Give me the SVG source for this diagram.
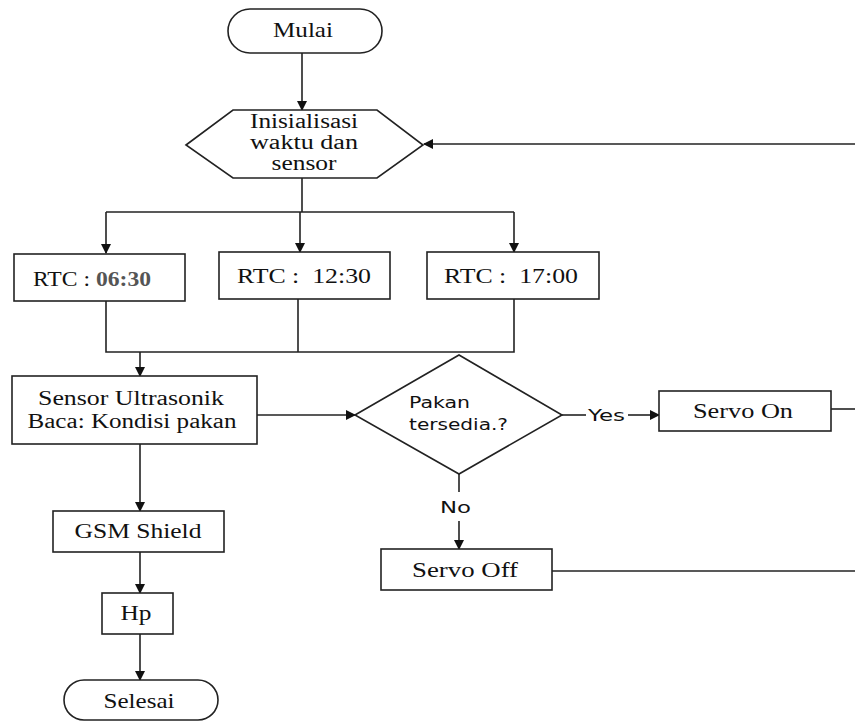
<svg xmlns="http://www.w3.org/2000/svg" width="855" height="722" viewBox="0 0 855 722">
<style>
.s{fill:#fff;stroke:#222;stroke-width:1.6}
.c{fill:none;stroke:#222;stroke-width:1.6}
.t{font-family:"Liberation Serif","Times New Roman",serif;font-size:22px;fill:#111;text-anchor:middle}
.m{font-size:20px}
.ss{font-family:"DejaVu Sans","Open Sans",sans-serif;font-size:16px;fill:#111}
</style>
<defs>
<marker id="a" markerWidth="10" markerHeight="10" refX="9" refY="5" orient="auto" markerUnits="userSpaceOnUse">
<path d="M0,0 L10,5 L0,10 Z" fill="#111"/>
</marker>
</defs>
<rect width="855" height="722" fill="#fff"/>
<g id="connectors">
<line class="c" x1="302" y1="53" x2="302" y2="110" marker-end="url(#a)"/>
<line class="c" x1="855" y1="144" x2="424" y2="144" marker-end="url(#a)"/>
<polyline class="c" points="302,178 302,212"/>
<polyline class="c" points="106,212 514,212"/>
<line class="c" x1="106" y1="212" x2="106" y2="253" marker-end="url(#a)"/>
<line class="c" x1="300" y1="212" x2="300" y2="252" marker-end="url(#a)"/>
<line class="c" x1="514" y1="212" x2="514" y2="252" marker-end="url(#a)"/>
<polyline class="c" points="106,300 106,352 514,352 514,299"/>
<line class="c" x1="298" y1="299" x2="298" y2="352"/>
<line class="c" x1="140" y1="352" x2="140" y2="376" marker-end="url(#a)"/>
<line class="c" x1="257" y1="415" x2="355" y2="415" marker-end="url(#a)"/>
<line class="c" x1="562" y1="415" x2="586" y2="415"/>
<line class="c" x1="628" y1="415" x2="659" y2="415" marker-end="url(#a)"/>
<line class="c" x1="831" y1="409" x2="855" y2="409"/>
<line class="c" x1="459" y1="474" x2="459" y2="492"/>
<line class="c" x1="459" y1="521" x2="459" y2="549" marker-end="url(#a)"/>
<line class="c" x1="552" y1="571" x2="855" y2="571"/>
<line class="c" x1="140" y1="444" x2="140" y2="511" marker-end="url(#a)"/>
<line class="c" x1="140" y1="552" x2="140" y2="593" marker-end="url(#a)"/>
<line class="c" x1="140" y1="634" x2="140" y2="680" marker-end="url(#a)"/>
<text class="ss" x="588" y="421" textLength="37" lengthAdjust="spacingAndGlyphs">Yes</text>
<text class="ss" x="440" y="513" textLength="31" lengthAdjust="spacingAndGlyphs">No</text>
</g>
<g id="mulai">
<rect class="s" x="228" y="9" width="154" height="44" rx="22"/>
<text class="t" x="303" y="37" textLength="60" lengthAdjust="spacingAndGlyphs">Mulai</text>
</g>
<g id="inisialisasi">
<polygon class="s" points="186,145 233,110 377,110 423,145 377,178 233,178"/>
<text class="t m" x="304" y="128" textLength="108" lengthAdjust="spacingAndGlyphs">Inisialisasi</text>
<text class="t m" x="304" y="149" textLength="108" lengthAdjust="spacingAndGlyphs">waktu dan</text>
<text class="t m" x="304" y="170" textLength="65" lengthAdjust="spacingAndGlyphs">sensor</text>
</g>
<g id="rtc1">
<rect class="s" x="14" y="254" width="171" height="47"/>
<text class="t" x="92" y="286" textLength="118" lengthAdjust="spacingAndGlyphs">RTC : <tspan fill="#555" font-weight="bold">06:30</tspan></text>
</g>
<g id="rtc2">
<rect class="s" x="219" y="252" width="171" height="47"/>
<text class="t" x="304" y="283" xml:space="preserve" textLength="134" lengthAdjust="spacingAndGlyphs">RTC :  12:30</text>
</g>
<g id="rtc3">
<rect class="s" x="427" y="252" width="172" height="47"/>
<text class="t" x="511" y="283" xml:space="preserve" textLength="134" lengthAdjust="spacingAndGlyphs">RTC :  17:00</text>
</g>
<g id="sensor">
<rect class="s" x="12" y="376" width="245" height="68"/>
<text class="t m" x="131" y="405" textLength="186" lengthAdjust="spacingAndGlyphs">Sensor Ultrasonik</text>
<text class="t m" x="132" y="428" textLength="209" lengthAdjust="spacingAndGlyphs">Baca: Kondisi pakan</text>
</g>
<g id="pakan">
<polygon class="s" points="355,415 459,355 562,415 459,474"/>
<text class="ss" x="409" y="408" textLength="61" lengthAdjust="spacingAndGlyphs">Pakan</text>
<text class="ss" x="409" y="430" textLength="99" lengthAdjust="spacingAndGlyphs">tersedia.?</text>
</g>
<g id="servo-on">
<rect class="s" x="659" y="391" width="172" height="40"/>
<text class="t" x="743" y="418" textLength="100" lengthAdjust="spacingAndGlyphs">Servo On</text>
</g>
<g id="servo-off">
<rect class="s" x="381" y="549" width="171" height="41"/>
<text class="t" x="465" y="577" textLength="106" lengthAdjust="spacingAndGlyphs">Servo Off</text>
</g>
<g id="gsm">
<rect class="s" x="53" y="511" width="171" height="41"/>
<text class="t" x="138" y="538" textLength="127" lengthAdjust="spacingAndGlyphs">GSM Shield</text>
</g>
<g id="hp">
<rect class="s" x="102" y="593" width="71" height="41"/>
<text class="t" x="136" y="620" textLength="31" lengthAdjust="spacingAndGlyphs">Hp</text>
</g>
<g id="selesai">
<rect class="s" x="64" y="680" width="154" height="40" rx="20"/>
<text class="t" x="139" y="708" textLength="71" lengthAdjust="spacingAndGlyphs">Selesai</text>
</g>
</svg>
